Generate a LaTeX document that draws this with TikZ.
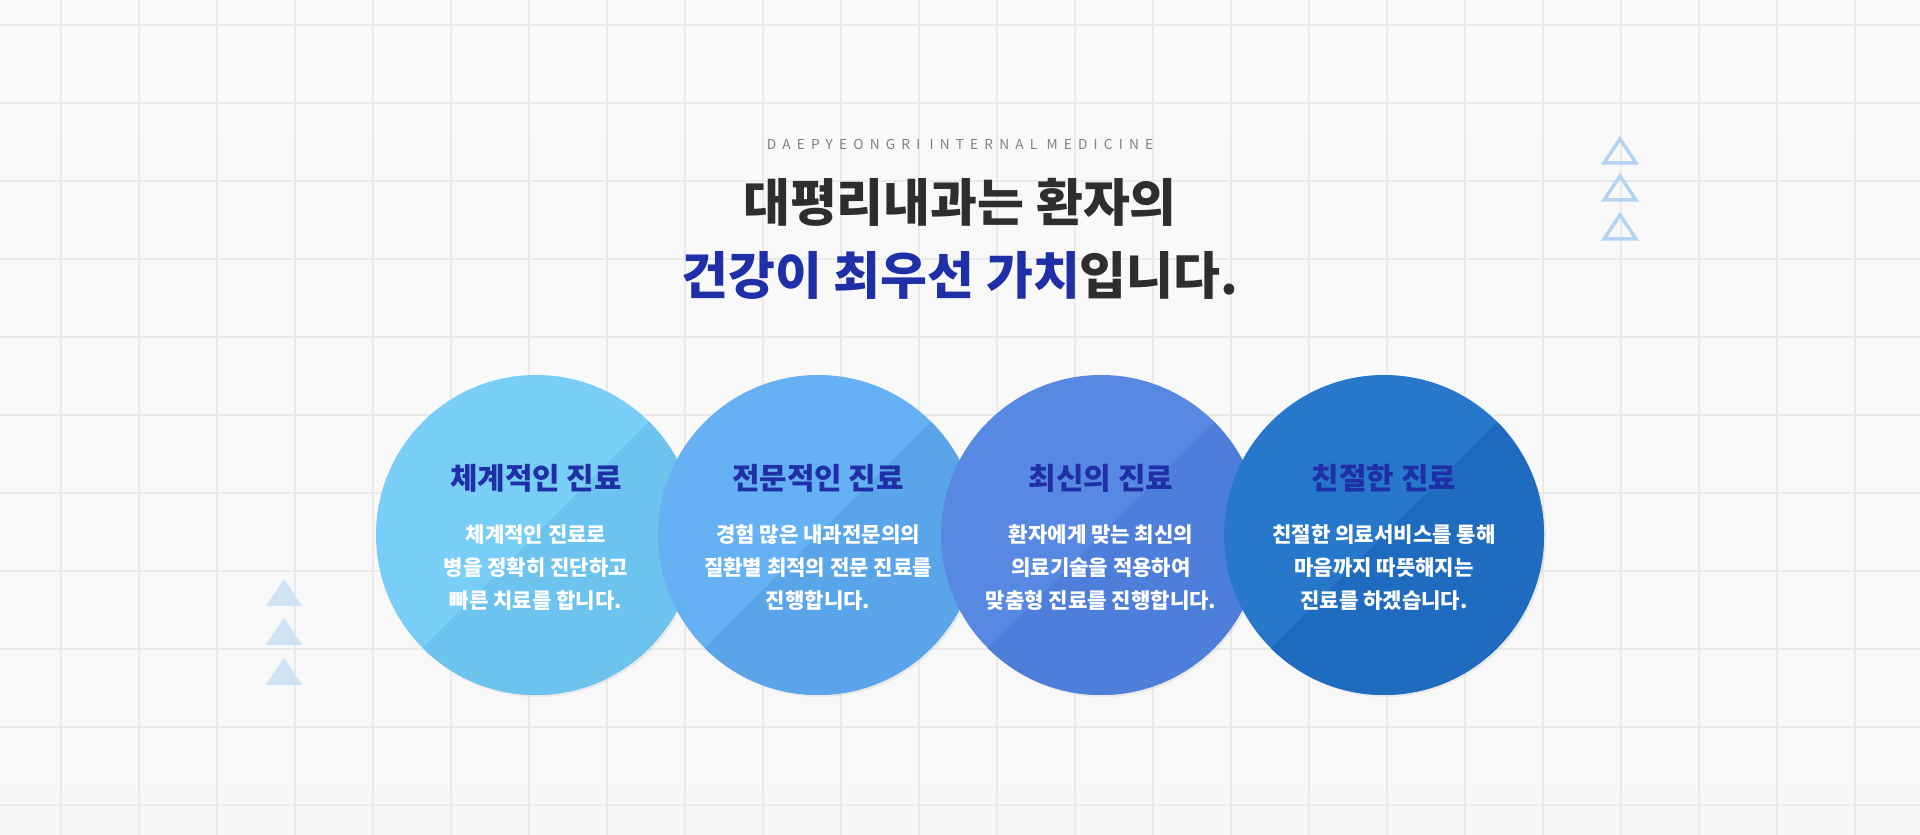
\documentclass[tikz,border=0pt]{standalone}
\usepackage{fontspec}
\newfontfamily\kr{Noto Sans CJK KR}
\newfontfamily\hdr[LetterSpace=45]{Noto Sans CJK KR}
\usetikzlibrary{positioning}
\definecolor{titleblue}{HTML}{1E2FA8}
\definecolor{darktext}{HTML}{2E2E2E}
\definecolor{gridline}{HTML}{EAEAEA}
\definecolor{triline}{HTML}{B5D3F2}
\definecolor{trifill}{HTML}{CFE3F5}
\definecolor{cA}{HTML}{79CEF7}\definecolor{dA}{HTML}{6CC3EE}
\definecolor{cB}{HTML}{66B1F4}\definecolor{dB}{HTML}{5AA5EA}
\definecolor{cC}{HTML}{5889E2}\definecolor{dC}{HTML}{4D7ED9}
\definecolor{cD}{HTML}{2778CB}\definecolor{dD}{HTML}{1E6BBF}
\tikzset{
  bubble/.style={circle, minimum size=3.2cm, inner sep=0pt},
  headline/.style={font=\kr\bfseries\fontsize{8.5}{10}\selectfont, text=titleblue},
  bodytext/.style={font=\kr\bfseries\fontsize{6}{9.4}\selectfont, text=white, align=center},
  bigtitle/.style={font=\kr\bfseries\fontsize{14.5}{17}\selectfont, text=darktext}
}
\begin{document}
\begin{tikzpicture}
\useasboundingbox (0,0) rectangle (19.2,8.35);
% background and grid
\shade[top color=white!96!gray, bottom color=white!94!gray] (0,0) rectangle (19.2,8.35);
\foreach \gx in {0.61,1.39,...,19.2} \draw[gridline, line width=0.3pt] (\gx,0) -- (\gx,8.35);
\foreach \gy in {0.3,1.08,...,8.35} \draw[gridline, line width=0.3pt] (0,\gy) -- (19.2,\gy);

% heading
\node[font=\hdr\fontsize{3.9}{5}\selectfont, text=gray] (sub) at (9.6,6.91) {DAEPYEONGRI INTERNAL MEDICINE};
\node[bigtitle] (line1) at (9.6,6.33) {대평리내과는 환자의};
\node[bigtitle] (line2) at (9.6,5.60) {\textcolor{titleblue}{건강이 최우선 가치}입니다.};

% triangles
\foreach \ty in {6.72,6.35,5.96}
  \draw[triline, line width=1pt] (16.04,\ty) -- (16.36,\ty) -- (16.20,\ty+0.24) -- cycle;
\foreach \ty in {2.29,1.90,1.50}
  \fill[trifill] (2.66,\ty) -- (3.02,\ty) -- (2.84,\ty+0.27) -- cycle;

% circles
\foreach \i/\cx/\col/\dk/\head/\body in {
  1/5.36/cA/dA/체계적인 진료/{체계적인 진료로\\병을 정확히 진단하고\\빠른 치료를 합니다.},
  2/8.18/cB/dB/전문적인 진료/{경험 많은 내과전문의의\\질환별 최적의 전문 진료를\\진행합니다.},
  3/11.01/cC/dC/최신의 진료/{환자에게 맞는 최신의\\의료기술을 적용하여\\맞춤형 진료를 진행합니다.},
  4/13.84/cD/dD/친절한 진료/{친절한 의료서비스를 통해\\마음까지 따뜻해지는\\진료를 하겠습니다.}}{
  \node[bubble, fill=black, opacity=0.06] at (\cx+0.02,2.98) {};
  \node[bubble, fill=\col] (c\i) at (\cx,3.0) {};
  \begin{scope}
    \clip (c\i) circle (1.6);
    \fill[\dk] (\cx-2,1.0) -- (\cx+1.3,4.3) -- (\cx+2,4.3) -- (\cx+2,1.0) -- cycle;
  \end{scope}
  \node[headline] (h\i) at (\cx,3.57) {\head};
  \node[bodytext, below=0.08cm of h\i] (b\i) {\body};
}
\end{tikzpicture}
\end{document}
